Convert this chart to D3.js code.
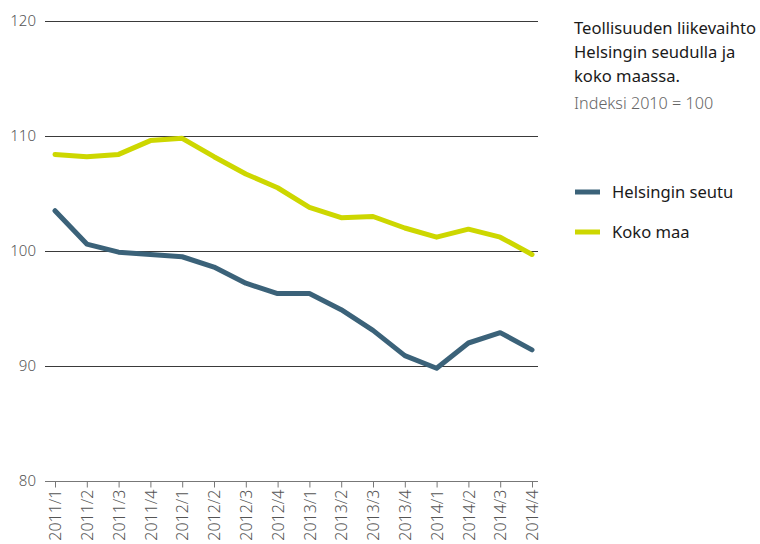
<!DOCTYPE html>
<meta charset="utf-8">
<style>
body { margin: 0; background: #fff; }
svg { font-family: "Noto Sans", sans-serif; }
.grid line { stroke: #3a3a3a; stroke-width: 1px; }
.axis text { fill: #555; font-size: 15px; font-weight: 300; }
.line { fill: none; stroke-width: 5px; stroke-linejoin: round; stroke-linecap: round; }
</style>
<svg width="760" height="544"></svg>
<script src="https://d3js.org/d3.v7.min.js"></script>
<script>
var quarters = ["2011/1","2011/2","2011/3","2011/4","2012/1","2012/2","2012/3","2012/4",
                "2013/1","2013/2","2013/3","2013/4","2014/1","2014/2","2014/3","2014/4"];
var helsinki = [103.5,100.6,99.9,99.7,99.5,98.6,97.2,96.3,96.3,94.9,93.1,90.9,89.8,92.0,92.9,91.4];
var kokoMaa = [108.4,108.2,108.4,109.6,109.8,108.2,106.7,105.5,103.8,102.9,103.0,102.0,101.2,101.9,101.2,99.7];
var yTicks = [80, 90, 100, 110, 120];
var seriesNames = ["Helsingin seutu", "Koko maa"];
var colors = ["#3b6279", "#cdd700"];

var svg = d3.select("svg");
var plotLeft = 45, plotRight = 538, plotTop = 21, plotBottom = 481;

var x = d3.scalePoint().domain(quarters).range([55, 532]);
var y = d3.scaleLinear().domain([80, 120]).range([plotBottom, plotTop]);

// horizontal grid
svg.append("g").attr("class", "grid")
  .selectAll("line").data(yTicks.filter(function(d) { return d > 80; }))
  .enter().append("line")
  .attr("x1", plotLeft).attr("x2", plotRight)
  .attr("y1", function(d) { return Math.round(y(d)) + 0.5; })
  .attr("y2", function(d) { return Math.round(y(d)) + 0.5; });

// y labels
svg.append("g").attr("class", "axis")
  .selectAll("text").data(yTicks)
  .enter().append("text")
  .attr("x", 36).attr("y", function(d) { return y(d); })
  .attr("dy", "0.35em").attr("text-anchor", "end")
  .text(function(d) { return d; });

// x axis
var xAxis = svg.append("g").attr("class", "axis")
  .attr("transform", "translate(0," + (plotBottom + 0.5) + ")")
  .call(d3.axisBottom(x).tickSize(6).tickSizeOuter(0));
xAxis.attr("font-size", null).attr("font-family", null);
xAxis.select(".domain").attr("d", "M" + plotLeft + ",0H" + plotRight).attr("stroke", "#777");
xAxis.selectAll(".tick line").attr("stroke", "#777");
xAxis.selectAll(".tick text")
  .attr("transform", "rotate(-90)")
  .attr("x", -8).attr("y", 0).attr("dy", "0.35em")
  .attr("text-anchor", "end")
  .attr("fill", "#555").style("font-size", "16px");

var line = d3.line()
  .x(function(d, i) { return x(quarters[i]); })
  .y(function(d) { return y(d); });

[helsinki, kokoMaa].forEach(function(s, i) {
  svg.append("path").attr("class", "line")
    .attr("d", line(s)).attr("stroke", colors[i]);
});

// title
var title = svg.append("text").attr("x", 574).attr("y", 34)
  .attr("fill", "#1a1a1a").style("font-size", "16.6px");
["Teollisuuden liikevaihto", "Helsingin seudulla ja", "koko maassa."].forEach(function(t, i) {
  title.append("tspan").attr("x", 574).attr("dy", i ? 24 : 0).text(t);
});
svg.append("text").attr("x", 574).attr("y", 109)
  .attr("fill", "#666").style("font-size", "16.2px").style("font-weight", 300)
  .text("Indeksi 2010 = 100");

// legend
var legend = svg.append("g").selectAll("g").data(seriesNames)
  .enter().append("g")
  .attr("transform", function(d, i) { return "translate(575," + (192 + i * 40) + ")"; });
legend.append("line").attr("x1", 0).attr("x2", 25)
  .attr("stroke", function(d, i) { return colors[i]; }).attr("stroke-width", 5);
legend.append("text").attr("x", 37).attr("dy", "0.35em")
  .attr("fill", "#1a1a1a").style("font-size", "16.6px")
  .text(function(d) { return d; });
</script>
